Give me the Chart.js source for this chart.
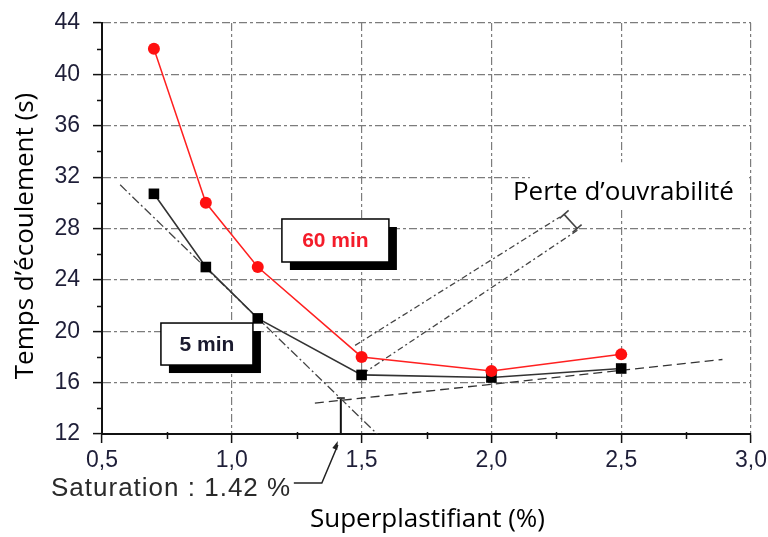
<!DOCTYPE html>
<html>
<head>
<meta charset="utf-8">
<script src="https://cdn.jsdelivr.net/npm/chart.js@4.4.1/dist/chart.umd.min.js"></script>
<style>
  html, body { margin: 0; padding: 0; background: #fff; }
  #wrap { width: 768px; height: 537px; }
</style>
</head>
<body>
<div id="wrap"><canvas id="tempsChart"></canvas></div>
<script>
// Dosage en superplastifiant (%) et temps d'écoulement (s)
const dosages = [0.7, 0.9, 1.1, 1.5, 2.0, 2.5];
const temps5min = [30.7, 25.0, 21.0, 16.6, 16.4, 17.1];
const temps60min = [42.0, 30.0, 25.0, 18.0, 16.9, 18.2];

// Bornes et pas des axes (graduations principales tous les 0,5 et 4)
const xBornes = [0.5, 3.0];
const yBornes = [12, 44];
const xPas = 0.25;
const yPas = 2;

// Droites de construction du point de saturation
const droiteChute = [[0.57, 31.4], [1.56, 12]];
const droitePalier = [[1.32, 14.4], [2.89, 17.8]];
const dosageSaturation = 1.42;
const repereSaturation = [[dosageSaturation, 12], [dosageSaturation, 14.8]];

// Perte d'ouvrabilité : deux droites parallèles et leur cote
const perteHaut = [[1.475, 18.9], [2.264, 28.9]];
const perteBas = [[1.505, 16.7], [2.334, 27.9]];
const cotePerte = [[2.28, 29.1], [2.33, 28.0]];

const majeurX = v => Math.abs(v * 2 - Math.round(v * 2)) < 1e-6;
const majeurY = v => Math.abs(v / 4 - Math.round(v / 4)) < 1e-6;

const GRILLE = '#7c7c7c';
const AXE = '#111';
const TEXTE_TICKS = '#1e1e38';

function ligne(points, style) {
    return Object.assign({
        type: 'line',
        data: points.map(([x, y]) => ({ x, y })),
        borderColor: '#555',
        borderWidth: 1.3,
        pointRadius: 0,
        fill: false,
        tension: 0
    }, style);
}

// Textes, cadres, flèche et petites graduations
const habillage = {
    id: 'habillage',
    afterDraw(chart) {
        const { ctx, chartArea: ca, scales: { x, y } } = chart;
        ctx.save();

        // petites graduations
        ctx.strokeStyle = AXE;
        ctx.lineWidth = 1.5;
        ctx.beginPath();
        x.ticks.forEach(t => {
            if (majeurX(t.value)) return;
            const px = Math.round(x.getPixelForValue(t.value)) + 0.5;
            ctx.moveTo(px, ca.bottom - 2);
            ctx.lineTo(px, ca.bottom + 5);
        });
        y.ticks.forEach(t => {
            if (majeurY(t.value)) return;
            const py = Math.round(y.getPixelForValue(t.value)) + 0.5;
            ctx.moveTo(ca.left, py);
            ctx.lineTo(ca.left - 5, py);
        });
        ctx.stroke();

        // cadres "60 min" et "5 min" avec ombre portée
        const cadre = (vx, vy, w, h, texte, couleur) => {
            const bx = x.getPixelForValue(vx);
            const by = y.getPixelForValue(vy);
            ctx.fillStyle = '#000';
            ctx.fillRect(bx + 8, by + 8, w, h);
            ctx.fillStyle = '#fff';
            ctx.fillRect(bx, by, w, h);
            ctx.strokeStyle = '#000';
            ctx.lineWidth = 1.5;
            ctx.strokeRect(bx, by, w, h);
            ctx.fillStyle = couleur;
            ctx.font = 'bold 21px "Liberation Sans", Arial, sans-serif';
            ctx.textAlign = 'center';
            ctx.textBaseline = 'middle';
            ctx.fillText(texte, bx + w / 2, by + h / 2 + 1);
        };
        cadre(1.193, 28.74, 107, 43, '60 min', '#f41c2a');
        cadre(0.727, 20.64, 92, 42, '5 min', '#1a1a2e');

        // légende de la perte d'ouvrabilité
        const tx = x.getPixelForValue(2.083);
        const ty = y.getPixelForValue(30.2);
        ctx.fillStyle = '#fff';
        ctx.fillRect(tx + 17, ty - 38, 218, 47);
        ctx.fillStyle = '#000';
        ctx.font = '26px "Open Sans", sans-serif';
        ctx.textAlign = 'left';
        ctx.textBaseline = 'alphabetic';
        ctx.fillText('Perte d’ouvrabilité', tx, ty);

        // flèche vers le dosage de saturation
        const pointeX = x.getPixelForValue(dosageSaturation) - 3;
        const pointeY = ca.bottom + 7;
        const coudeX = pointeX - 16;
        const coudeY = ca.bottom + 49;
        ctx.strokeStyle = '#222';
        ctx.lineWidth = 1.5;
        ctx.beginPath();
        ctx.moveTo(pointeX - 44, coudeY);
        ctx.lineTo(coudeX, coudeY);
        ctx.lineTo(pointeX, pointeY + 4);
        ctx.stroke();
        const ang = Math.atan2(pointeY - coudeY, pointeX - coudeX);
        ctx.fillStyle = '#222';
        ctx.beginPath();
        ctx.moveTo(pointeX, pointeY);
        ctx.lineTo(pointeX - 9 * Math.cos(ang - 0.3), pointeY - 9 * Math.sin(ang - 0.3));
        ctx.lineTo(pointeX - 9 * Math.cos(ang + 0.3), pointeY - 9 * Math.sin(ang + 0.3));
        ctx.closePath();
        ctx.fill();

        ctx.fillStyle = '#2a2a2a';
        ctx.font = '26px "Liberation Sans", Arial, sans-serif';
        ctx.letterSpacing = '1px';
        ctx.textAlign = 'left';
        ctx.fillText('Saturation : ' + dosageSaturation.toFixed(2) + ' %', 51, coudeY + 13);
        ctx.letterSpacing = '0px';

        // titres des axes
        ctx.fillStyle = '#000';
        ctx.font = '26px "Open Sans", sans-serif';
        ctx.textAlign = 'center';
        ctx.fillText('Superplastifiant (%)', (ca.left + ca.right) / 2 + 1, 527);
        ctx.translate(33, 236);
        ctx.rotate(-Math.PI / 2);
        ctx.fillText('Temps d’écoulement (s)', 0, 0);

        ctx.restore();
    }
};

document.addEventListener('DOMContentLoaded', function() {
    const canvas = document.getElementById('tempsChart');

    new Chart(canvas, {
        data: {
            datasets: [
                {
                    type: 'line',
                    label: '60 min',
                    data: dosages.map((d, i) => ({ x: d, y: temps60min[i] })),
                    borderColor: '#ff2020',
                    backgroundColor: '#ff1010',
                    borderWidth: 1.5,
                    pointStyle: 'circle',
                    pointRadius: 6,
                    pointBorderWidth: 0,
                    tension: 0
                },
                {
                    type: 'line',
                    label: '5 min',
                    data: dosages.map((d, i) => ({ x: d, y: temps5min[i] })),
                    borderColor: '#333',
                    backgroundColor: '#000',
                    borderWidth: 1.6,
                    pointStyle: 'rect',
                    pointRadius: 7.5,
                    pointBorderWidth: 0,
                    tension: 0
                },
                ligne(droiteChute, { borderDash: [9, 3, 2, 3], borderColor: '#444' }),
                ligne(droitePalier, { borderDash: [9, 5], borderColor: '#333' }),
                ligne(repereSaturation, {
                    borderColor: '#111', borderWidth: 2,
                    pointRadius: [0, 4], pointStyle: 'line', pointBorderColor: '#111', pointBorderWidth: 1.5
                }),
                ligne(perteHaut, { borderDash: [6, 3, 2, 3], borderColor: '#444' }),
                ligne(perteBas, { borderDash: [6, 3, 2, 3], borderColor: '#444' }),
                ligne(cotePerte, {
                    borderColor: '#444', borderWidth: 1.6,
                    pointRadius: 6, pointStyle: 'line', pointRotation: -41,
                    pointBorderColor: '#444', pointBorderWidth: 1.6
                })
            ]
        },
        options: {
            responsive: true,
            maintainAspectRatio: false,
            animation: false,
            events: [],
            layout: { padding: { left: 0, right: 17, top: 23, bottom: 0 } },
            plugins: {
                legend: { display: false },
                tooltip: { enabled: false }
            },
            scales: {
                x: {
                    type: 'linear',
                    min: xBornes[0],
                    max: xBornes[1],
                    ticks: {
                        stepSize: xPas,
                        autoSkip: false,
                        maxRotation: 0,
                        padding: 4,
                        color: TEXTE_TICKS,
                        font: { family: '"Liberation Sans", Arial, sans-serif', size: 23 },
                        callback: v => majeurX(v) ? v.toFixed(1).replace('.', ',') : ''
                    },
                    grid: {
                        color: c => majeurX(c.tick.value) ? GRILLE : 'rgba(0,0,0,0)',
                        lineWidth: 1.2,
                        tickLength: 9,
                        tickWidth: 1.5,
                        tickColor: c => majeurX(c.tick.value) ? AXE : 'rgba(0,0,0,0)'
                    },
                    border: { color: AXE, width: 2, dash: [8, 3, 3, 3] },
                    afterFit: s => {
                        s.height = 103;
                        s.paddingLeft = 0;
                        s.paddingRight = 0;
                    }
                },
                y: {
                    type: 'linear',
                    min: yBornes[0],
                    max: yBornes[1],
                    ticks: {
                        stepSize: yPas,
                        autoSkip: false,
                        padding: 13,
                        color: TEXTE_TICKS,
                        font: { family: '"Liberation Sans", Arial, sans-serif', size: 23 },
                        callback: v => majeurY(v) ? String(v) : ''
                    },
                    grid: {
                        color: c => majeurY(c.tick.value) ? GRILLE : 'rgba(0,0,0,0)',
                        lineWidth: 1.2,
                        tickLength: 9,
                        tickWidth: 1.5,
                        tickColor: c => majeurY(c.tick.value) ? AXE : 'rgba(0,0,0,0)'
                    },
                    border: { color: AXE, width: 2, dash: [8, 3, 3, 3] },
                    afterFit: s => {
                        s.width = 102;
                        s.paddingTop = 0;
                        s.paddingBottom = 0;
                    }
                }
            }
        },
        plugins: [habillage]
    });
});
</script>
</body>
</html>
